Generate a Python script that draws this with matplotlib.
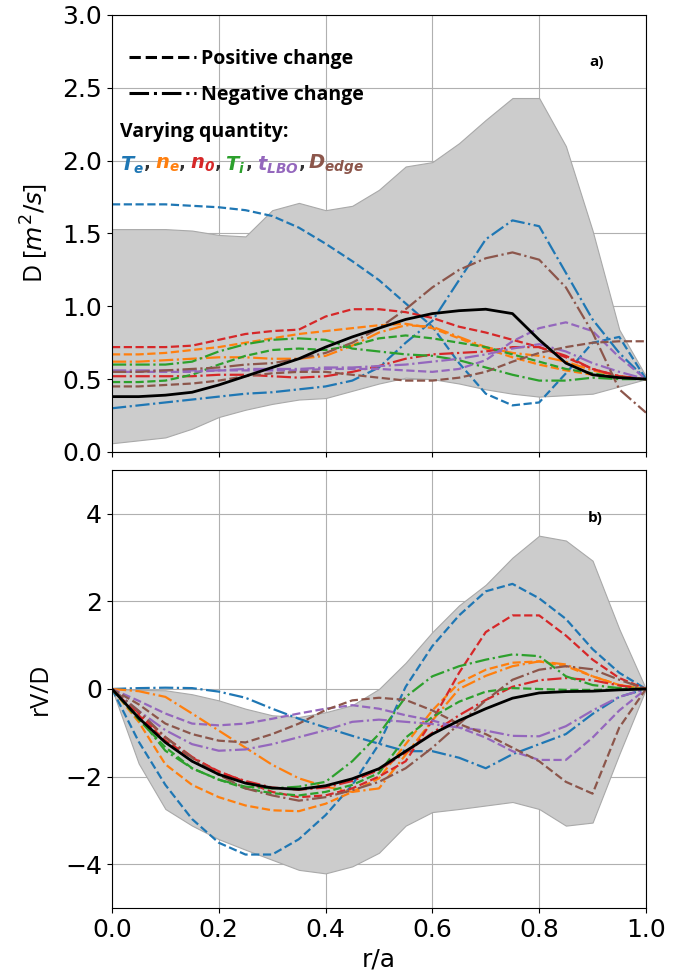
import numpy as np
import matplotlib.pyplot as plt
from matplotlib.lines import Line2D

# radial grid r/a
r = [0.0, 0.05, 0.1, 0.15, 0.2, 0.25, 0.3, 0.35, 0.4, 0.45, 0.5,
     0.55, 0.6, 0.65, 0.7, 0.75, 0.8, 0.85, 0.9, 0.95, 1.0]

# ---- panel a) : D [m^2/s] ----
d_mean = [0.38, 0.38, 0.39, 0.41, 0.46, 0.52, 0.58, 0.64, 0.72, 0.79, 0.85,
          0.91, 0.95, 0.97, 0.98, 0.95, 0.77, 0.61, 0.53, 0.51, 0.50]
d_upper = [1.53, 1.53, 1.53, 1.52, 1.49, 1.48, 1.66, 1.71, 1.66, 1.69, 1.80,
           1.96, 1.99, 2.12, 2.28, 2.43, 2.43, 2.10, 1.52, 0.84, 0.52]
d_lower = [0.06, 0.08, 0.10, 0.16, 0.24, 0.29, 0.33, 0.36, 0.37, 0.42, 0.47,
           0.51, 0.50, 0.47, 0.43, 0.40, 0.38, 0.39, 0.40, 0.45, 0.50]

d_te_pos = [1.70, 1.70, 1.70, 1.69, 1.68, 1.66, 1.62, 1.54, 1.43, 1.31, 1.18,
            1.02, 0.86, 0.61, 0.40, 0.32, 0.34, 0.54, 0.75, 0.79, 0.50]
d_te_neg = [0.30, 0.32, 0.34, 0.36, 0.38, 0.40, 0.41, 0.43, 0.45, 0.49, 0.58,
            0.75, 0.90, 1.18, 1.46, 1.59, 1.55, 1.23, 0.91, 0.68, 0.50]
d_ne_pos = [0.67, 0.67, 0.68, 0.70, 0.72, 0.75, 0.78, 0.81, 0.83, 0.85, 0.87,
            0.88, 0.85, 0.78, 0.71, 0.65, 0.60, 0.56, 0.53, 0.51, 0.50]
d_ne_neg = [0.62, 0.62, 0.63, 0.64, 0.65, 0.65, 0.64, 0.64, 0.66, 0.73, 0.82,
            0.87, 0.86, 0.79, 0.72, 0.68, 0.66, 0.62, 0.56, 0.52, 0.50]
d_n0_pos = [0.72, 0.72, 0.72, 0.73, 0.77, 0.81, 0.83, 0.84, 0.93, 0.98, 0.98,
            0.96, 0.92, 0.86, 0.82, 0.77, 0.72, 0.65, 0.57, 0.52, 0.50]
d_n0_neg = [0.52, 0.52, 0.52, 0.52, 0.53, 0.53, 0.52, 0.51, 0.52, 0.55, 0.59,
            0.64, 0.67, 0.68, 0.69, 0.72, 0.72, 0.66, 0.57, 0.52, 0.50]
d_ti_pos = [0.48, 0.48, 0.49, 0.53, 0.60, 0.66, 0.70, 0.71, 0.70, 0.73, 0.78,
            0.80, 0.78, 0.75, 0.72, 0.67, 0.62, 0.57, 0.54, 0.51, 0.50]
d_ti_neg = [0.60, 0.60, 0.60, 0.62, 0.69, 0.74, 0.77, 0.78, 0.77, 0.71, 0.69,
            0.67, 0.66, 0.63, 0.58, 0.53, 0.49, 0.49, 0.51, 0.50, 0.50]
d_lbo_pos = [0.55, 0.55, 0.55, 0.55, 0.56, 0.56, 0.56, 0.56, 0.57, 0.57, 0.57,
             0.56, 0.55, 0.57, 0.63, 0.76, 0.85, 0.89, 0.83, 0.65, 0.50]
d_lbo_neg = [0.56, 0.56, 0.56, 0.56, 0.56, 0.57, 0.57, 0.57, 0.58, 0.58, 0.59,
             0.60, 0.62, 0.64, 0.67, 0.71, 0.74, 0.69, 0.61, 0.55, 0.50]
d_edge_pos = [0.45, 0.45, 0.46, 0.47, 0.49, 0.52, 0.54, 0.55, 0.55, 0.53, 0.51,
              0.49, 0.49, 0.51, 0.55, 0.62, 0.68, 0.72, 0.75, 0.76, 0.76]
d_edge_neg = [0.55, 0.55, 0.56, 0.57, 0.58, 0.60, 0.61, 0.64, 0.68, 0.75, 0.85,
              0.98, 1.13, 1.25, 1.33, 1.37, 1.32, 1.13, 0.82, 0.43, 0.27]

# ---- panel b) : rV/D ----
v_mean = [0.0, -0.66, -1.22, -1.65, -1.95, -2.15, -2.26, -2.29, -2.21, -2.05, -1.82,
          -1.42, -1.03, -0.72, -0.45, -0.21, -0.09, -0.06, -0.05, -0.02, 0.0]
v_upper = [0.0, -0.02, -0.03, -0.12, -0.26, -0.45, -0.60, -0.64, -0.53, -0.37, 0.0,
           0.60, 1.30, 1.91, 2.38, 3.00, 3.50, 3.39, 2.93, 1.37, 0.0]
v_lower = [0.0, -1.70, -2.74, -3.12, -3.43, -3.67, -3.90, -4.13, -4.21, -4.05, -3.74,
           -3.12, -2.81, -2.74, -2.66, -2.58, -2.74, -3.12, -3.05, -1.49, 0.0]

v_te_pos = [0.0, -1.20, -2.19, -2.97, -3.51, -3.78, -3.78, -3.43, -2.88, -2.19, -1.26,
            0.05, 0.98, 1.68, 2.23, 2.40, 2.07, 1.60, 0.91, 0.37, 0.0]
v_te_neg = [0.0, 0.02, 0.03, 0.02, -0.06, -0.20, -0.45, -0.68, -0.88, -1.07, -1.25,
            -1.42, -1.42, -1.57, -1.81, -1.49, -1.26, -1.03, -0.57, -0.18, 0.0]
v_ne_pos = [0.0, -0.75, -1.72, -2.19, -2.47, -2.66, -2.77, -2.79, -2.62, -2.35, -2.04,
            -1.26, -0.49, 0.14, 0.44, 0.60, 0.63, 0.52, 0.29, 0.09, 0.0]
v_ne_neg = [0.0, -0.05, -0.18, -0.56, -0.95, -1.34, -1.73, -2.04, -2.23, -2.35, -2.27,
            -1.50, -0.72, 0.0, 0.30, 0.52, 0.63, 0.56, 0.29, 0.09, 0.0]
v_n0_pos = [0.0, -0.60, -1.18, -1.57, -1.88, -2.12, -2.35, -2.47, -2.43, -2.27, -2.00,
            -1.65, -0.72, 0.37, 1.30, 1.68, 1.68, 1.22, 0.67, 0.25, 0.0]
v_n0_neg = [0.0, -0.55, -1.10, -1.55, -1.90, -2.10, -2.25, -2.30, -2.25, -2.10, -1.85,
            -1.45, -1.00, -0.60, -0.25, 0.05, 0.20, 0.25, 0.20, 0.08, 0.0]
v_ti_pos = [0.0, -0.70, -1.33, -1.81, -2.07, -2.27, -2.38, -2.43, -2.35, -2.19, -1.92,
            -1.11, -0.64, -0.29, -0.06, 0.02, 0.0, -0.02, -0.02, -0.01, 0.0]
v_ti_neg = [0.0, -0.65, -1.41, -1.81, -2.07, -2.23, -2.27, -2.23, -2.12, -1.65, -1.03,
            -0.18, 0.29, 0.52, 0.67, 0.79, 0.75, 0.29, 0.09, 0.02, 0.0]
v_lbo_pos = [0.0, -0.27, -0.56, -0.79, -0.83, -0.79, -0.68, -0.56, -0.45, -0.37, -0.45,
             -0.60, -0.72, -0.88, -1.11, -1.42, -1.62, -1.62, -1.11, -0.49, 0.0]
v_lbo_neg = [0.0, -0.50, -0.94, -1.26, -1.41, -1.38, -1.26, -1.10, -0.94, -0.75, -0.70,
             -0.75, -0.80, -0.88, -0.95, -1.07, -1.08, -0.85, -0.49, -0.18, 0.0]
v_edge_pos = [0.0, -0.35, -0.79, -1.03, -1.18, -1.22, -1.03, -0.79, -0.48, -0.26, -0.20,
              -0.25, -0.49, -0.80, -1.03, -1.34, -1.65, -2.12, -2.39, -0.88, 0.0]
v_edge_neg = [0.0, -0.50, -1.10, -1.57, -1.96, -2.27, -2.43, -2.55, -2.47, -2.31, -2.12,
              -1.81, -1.34, -0.80, -0.26, 0.21, 0.44, 0.52, 0.45, 0.21, 0.0]

colors = ['tab:blue', 'tab:orange', 'tab:red', 'tab:green', 'tab:purple', 'tab:brown']
quantity_labels = [r'$\mathbfit{T_e}$', r'$\mathbfit{n_e}$', r'$\mathbfit{n_0}$',
                   r'$\mathbfit{T_i}$', r'$\mathbfit{t_{LBO}}$', r'$\mathbfit{D_{edge}}$']

d_pos = [d_te_pos, d_ne_pos, d_n0_pos, d_ti_pos, d_lbo_pos, d_edge_pos]
d_neg = [d_te_neg, d_ne_neg, d_n0_neg, d_ti_neg, d_lbo_neg, d_edge_neg]
v_pos = [v_te_pos, v_ne_pos, v_n0_pos, v_ti_pos, v_lbo_pos, v_edge_pos]
v_neg = [v_te_neg, v_ne_neg, v_n0_neg, v_ti_neg, v_lbo_neg, v_edge_neg]

fig = plt.figure(figsize=(6.84, 9.8), dpi=100)
ax1 = fig.add_axes([0.1637, 0.5388, 0.7807, 0.4459])
ax2 = fig.add_axes([0.1637, 0.0735, 0.7807, 0.4469])

for ax, mean, upper, lower, pos, neg in [(ax1, d_mean, d_upper, d_lower, d_pos, d_neg),
                                         (ax2, v_mean, v_upper, v_lower, v_pos, v_neg)]:
    ax.fill_between(r, lower, upper, facecolor='#cccccc', edgecolor='#a9a9a9',
                    linewidth=0.8, zorder=1)
    for c, yp, yn in zip(colors, pos, neg):
        ax.plot(r, yp, color=c, ls='--', lw=1.6, zorder=2)
        ax.plot(r, yn, color=c, ls='-.', lw=1.6, zorder=2)
    ax.plot(r, mean, color='k', lw=2, zorder=3)
    ax.grid(True, color='#b0b0b0', lw=0.8)
    ax.set_axisbelow(True)
    ax.set_xlim(0, 1)
    ax.set_xticks(np.arange(0, 1.01, 0.2))
    ax.tick_params(labelsize=18)

ax1.set_ylim(0, 3)
ax1.set_yticks(np.arange(0, 3.01, 0.5))
ax1.set_xticklabels([])
ax1.set_ylabel(r'D [$m^2/s$]', fontsize=18, family='Open Sans', labelpad=9)

ax2.set_ylim(-5, 5)
ax2.set_yticks([-4, -2, 0, 2, 4])
ax2.set_ylabel('rV/D', fontsize=18, family='Open Sans', labelpad=9)
ax2.set_xlabel('r/a', fontsize=18)

# line style key
handles = [Line2D([], [], color='k', ls='--', lw=2.2),
           Line2D([], [], color='k', ls='-.', lw=2.2)]
ax1.legend(handles, ['Positive change', 'Negative change'], loc='upper left',
           bbox_to_anchor=(0.0, 0.963), frameon=False, handlelength=3.4,
           handletextpad=0.3, labelspacing=0.85,
           prop={'family': 'Open Sans', 'weight': 'bold', 'size': 14})
ax1.text(0.015, 0.732, 'Varying quantity:', transform=ax1.transAxes,
         fontsize=14, family='Open Sans', weight='bold', va='center')

label_x = [0.015, 0.080, 0.146, 0.212, 0.272, 0.368]
for i, (lx, lab, c) in enumerate(zip(label_x, quantity_labels, colors)):
    t = ax1.text(lx, 0.657, lab, color=c, fontsize=14, transform=ax1.transAxes,
                 va='center')
    if i < len(quantity_labels) - 1:
        ax1.annotate(',', xy=(1, 0.15), xycoords=t, fontsize=13, weight='bold',
                     color='#333333', va='bottom', ha='left')

ax1.text(0.908, 0.892, 'a)', transform=ax1.transAxes, fontsize=11,
         family='Open Sans', weight='bold', ha='center', va='center')
ax2.text(0.905, 0.890, 'b)', transform=ax2.transAxes, fontsize=11,
         family='Open Sans', weight='bold', ha='center', va='center')

fig.savefig('out.png', dpi=100)
